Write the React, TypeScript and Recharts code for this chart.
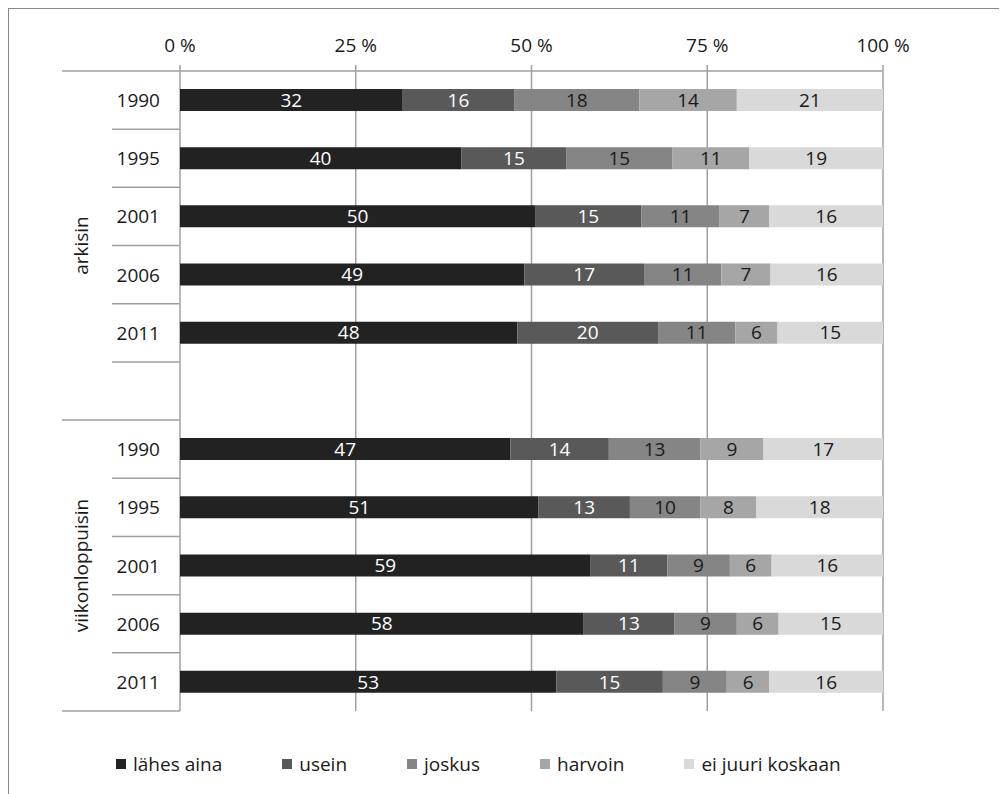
import React from 'react';
import {
  BarChart,
  Bar,
  XAxis,
  YAxis,
  CartesianGrid,
  LabelList,
} from 'recharts';

// row keys (gap row separates the two groups)
const rowKeys = ['a1990', 'a1995', 'a2001', 'a2006', 'a2011', 'gap', 'w1990', 'w1995', 'w2001', 'w2006', 'w2011'];
const rowLabels = ['1990', '1995', '2001', '2006', '2011', '', '1990', '1995', '2001', '2006', '2011'];
const groupLabels = ['arkisin', 'viikonloppuisin'];

const lahesAina = [32, 40, 50, 49, 48, null, 47, 51, 59, 58, 53];
const usein = [16, 15, 15, 17, 20, null, 14, 13, 11, 13, 15];
const joskus = [18, 15, 11, 11, 11, null, 13, 10, 9, 9, 9];
const harvoin = [14, 11, 7, 7, 6, null, 9, 8, 6, 6, 6];
const eiJuuriKoskaan = [21, 19, 16, 16, 15, null, 17, 18, 16, 15, 16];

const xTicks = [0, 0.25, 0.5, 0.75, 1];

const SERIES = [
  { key: 'lahesAina', name: 'lähes aina', color: '#222222', text: '#ffffff' },
  { key: 'usein', name: 'usein', color: '#595959', text: '#ffffff' },
  { key: 'joskus', name: 'joskus', color: '#858585', text: '#1a1a1a' },
  { key: 'harvoin', name: 'harvoin', color: '#a6a6a6', text: '#1a1a1a' },
  { key: 'eiJuuriKoskaan', name: 'ei juuri koskaan', color: '#d9d9d9', text: '#1a1a1a' },
];

const data = rowKeys.map((k, i) => ({
  key: k,
  lahesAina: lahesAina[i],
  usein: usein[i],
  joskus: joskus[i],
  harvoin: harvoin[i],
  eiJuuriKoskaan: eiJuuriKoskaan[i],
}));

const FONT = '"Open Sans", sans-serif';
const LINE = '#a0a0a0';

const CHART_W = 990;
const CHART_H = 785;
const PLOT_LEFT = 171;
const PLOT_TOP = 62;
const PLOT_BOTTOM = 702;
const BAND = (PLOT_BOTTOM - PLOT_TOP) / rowKeys.length;

const YearTick = (props: any) => {
  const { y, index } = props;
  const top = y - BAND / 2;
  const bottom = y + BAND / 2;
  const longBottom = index === 5 || index === rowKeys.length - 1;
  const groupY = index === 0 ? top + BAND * 3 : top + BAND * 2.5;
  return (
    <g>
      {index === 0 && (
        <line x1={53} x2={PLOT_LEFT} y1={top} y2={top} stroke={LINE} strokeWidth={1.5} />
      )}
      <line
        x1={longBottom ? 53 : 103}
        x2={PLOT_LEFT}
        y1={bottom}
        y2={bottom}
        stroke={LINE}
        strokeWidth={1.5}
      />
      <text
        x={151}
        y={y}
        textAnchor="end"
        dominantBaseline="central"
        fontFamily={FONT}
        fontSize={19}
        fill="#1a1a1a"
      >
        {rowLabels[index]}
      </text>
      {(index === 0 || index === 6) && (
        <text
          x={72}
          y={groupY}
          transform={`rotate(-90, 72, ${groupY})`}
          textAnchor="middle"
          dominantBaseline="central"
          fontFamily={FONT}
          fontSize={19}
          fill="#1a1a1a"
        >
          {groupLabels[index === 0 ? 0 : 1]}
        </text>
      )}
    </g>
  );
};

const Legend = () => (
  <div
    style={{
      position: 'absolute',
      left: 107,
      top: 742,
      display: 'flex',
      gap: 60,
      fontFamily: FONT,
      fontSize: 19,
      color: '#1a1a1a',
      whiteSpace: 'nowrap',
    }}
  >
    {SERIES.map((s) => (
      <div key={s.key} style={{ display: 'flex', alignItems: 'center' }}>
        <span
          style={{
            display: 'inline-block',
            width: 10,
            height: 10,
            background: s.color,
            marginRight: 7,
          }}
        />
        {s.name}
      </div>
    ))}
  </div>
);

export default function App() {
  return (
    <div
      style={{
        position: 'relative',
        width: CHART_W,
        height: CHART_H,
        borderLeft: '1px solid #888',
        borderTop: '1px solid #888',
        background: '#fff',
      }}
    >
      <BarChart
        width={CHART_W}
        height={CHART_H}
        data={data}
        layout="vertical"
        stackOffset="expand"
        barSize={22}
        margin={{ top: PLOT_TOP - 30, right: CHART_W - 874, bottom: CHART_H - PLOT_BOTTOM, left: 0 }}
      >
        <CartesianGrid horizontal={false} vertical stroke={LINE} strokeWidth={1.5} />
        <XAxis
          type="number"
          orientation="top"
          domain={[0, 1]}
          ticks={xTicks}
          height={30}
          tickFormatter={(v: number) => `${Math.round(v * 100)} %`}
          tick={{ fontFamily: FONT, fontSize: 19, fill: '#1a1a1a' }}
          tickSize={6}
          tickMargin={13}
          tickLine={{ stroke: LINE, strokeWidth: 1.5 }}
          axisLine={{ stroke: LINE, strokeWidth: 1.5 }}
          interval={0}
        />
        <YAxis
          type="category"
          dataKey="key"
          width={PLOT_LEFT}
          axisLine={false}
          tickLine={false}
          interval={0}
          tick={<YearTick />}
        />
        {SERIES.map((s) => (
          <Bar key={s.key} dataKey={s.key} stackId="a" fill={s.color} isAnimationActive={false}>
            <LabelList
              dataKey={s.key}
              position="center"
              fill={s.text}
              fontFamily={FONT}
              fontSize={19}
            />
          </Bar>
        ))}
      </BarChart>
      <Legend />
    </div>
  );
}
